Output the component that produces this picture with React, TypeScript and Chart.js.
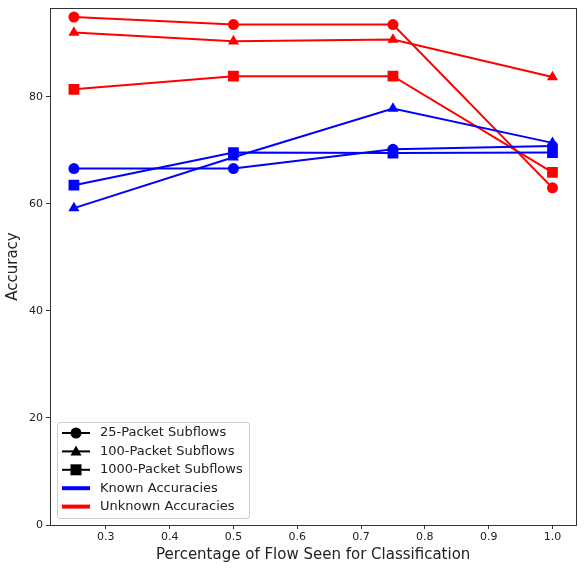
import { useEffect, useRef } from "react";
import { Chart, registerables } from "chart.js";

Chart.register(...registerables);

const xValues = [0.25, 0.5, 0.75, 1.0];
const known25 = [66.6, 66.6, 70.2, 70.8];
const known100 = [59.2, 68.7, 77.8, 71.4];
const known1000 = [63.5, 69.6, 69.5, 69.6];
const unknown25 = [94.9, 93.5, 93.5, 63.0];
const unknown100 = [92.0, 90.4, 90.7, 83.7];
const unknown1000 = [81.4, 83.85, 83.85, 65.9];

const xTicks = [0.3, 0.4, 0.5, 0.6, 0.7, 0.8, 0.9, 1.0];
const yTicks = [0, 20, 40, 60, 80];

const legendItems = [
  { label: "25-Packet Subflows", color: "#000000", marker: "circle" },
  { label: "100-Packet Subflows", color: "#000000", marker: "triangle" },
  { label: "1000-Packet Subflows", color: "#000000", marker: "rect" },
  { label: "Known Accuracies", color: "#0000ff", marker: null },
  { label: "Unknown Accuracies", color: "#ff0000", marker: null },
];

const BLUE = "#0000ff";
const RED = "#ff0000";
const FONT = "'DejaVu Sans', sans-serif";

const markerRadius: Record<string, number> = { circle: 5.5, triangle: 6.4, rect: 7.6 };

function series(values: number[], color: string, marker: string) {
  return {
    data: values.map((y, i) => ({ x: xValues[i], y })),
    borderColor: color,
    backgroundColor: color,
    borderWidth: 2,
    pointStyle: marker,
    pointRadius: markerRadius[marker],
    pointBorderWidth: 0,
    pointBackgroundColor: color,
    showLine: true,
    tension: 0,
  };
}

function drawMarker(ctx: CanvasRenderingContext2D, marker: string, x: number, y: number) {
  ctx.beginPath();
  if (marker === "circle") {
    ctx.arc(x, y, 5.5, 0, Math.PI * 2);
  } else if (marker === "triangle") {
    ctx.moveTo(x, y - 6);
    ctx.lineTo(x + 5.5, y + 4);
    ctx.lineTo(x - 5.5, y + 4);
    ctx.closePath();
  } else {
    ctx.rect(x - 5.5, y - 5.5, 11, 11);
  }
  ctx.fill();
}

// matplotlib-like box around the axes plus the in-axes legend
const framePlugin = {
  id: "frame",
  afterDraw(chart: any) {
    const { ctx, chartArea } = chart;
    ctx.save();
    ctx.strokeStyle = "#333";
    ctx.lineWidth = 1;
    ctx.strokeRect(
      Math.round(chartArea.left) + 0.5,
      Math.round(chartArea.top) + 0.5,
      Math.round(chartArea.right - chartArea.left),
      Math.round(chartArea.bottom - chartArea.top)
    );

    const bx = 57.5;
    const by = 422.5;
    const bw = 192;
    const bh = 96;
    const r = 3;
    ctx.beginPath();
    ctx.moveTo(bx + r, by);
    ctx.lineTo(bx + bw - r, by);
    ctx.arcTo(bx + bw, by, bx + bw, by + r, r);
    ctx.lineTo(bx + bw, by + bh - r);
    ctx.arcTo(bx + bw, by + bh, bx + bw - r, by + bh, r);
    ctx.lineTo(bx + r, by + bh);
    ctx.arcTo(bx, by + bh, bx, by + bh - r, r);
    ctx.lineTo(bx, by + r);
    ctx.arcTo(bx, by, bx + r, by, r);
    ctx.closePath();
    ctx.fillStyle = "rgba(255,255,255,0.8)";
    ctx.fill();
    ctx.strokeStyle = "#cccccc";
    ctx.stroke();

    ctx.font = `13px ${FONT}`;
    ctx.textBaseline = "middle";
    legendItems.forEach((item, i) => {
      const cy = by + 10.5 + i * 18.4;
      ctx.strokeStyle = item.color;
      ctx.fillStyle = item.color;
      ctx.lineWidth = item.marker ? 2 : 4;
      ctx.beginPath();
      ctx.moveTo(62, cy);
      ctx.lineTo(90, cy);
      ctx.stroke();
      if (item.marker) drawMarker(ctx, item.marker, 76, cy);
      ctx.fillStyle = "#222";
      ctx.fillText(item.label, 100, cy);
    });
    ctx.restore();
  },
};

export default function App() {
  const canvasRef = useRef<HTMLCanvasElement | null>(null);

  useEffect(() => {
    if (!canvasRef.current) return;

    const chart = new Chart(canvasRef.current, {
      type: "scatter",
      data: {
        datasets: [
          series(known25, BLUE, "circle"),
          series(known100, BLUE, "triangle"),
          series(known1000, BLUE, "rect"),
          series(unknown25, RED, "circle"),
          series(unknown100, RED, "triangle"),
          series(unknown1000, RED, "rect"),
        ] as any,
      },
      options: {
        responsive: false,
        animation: false,
        layout: { padding: { top: 8, right: 3, left: 0, bottom: 0 } },
        plugins: {
          legend: { display: false },
          tooltip: { enabled: false },
        },
        scales: {
          x: {
            type: "linear",
            min: 0.2125,
            max: 1.0375,
            afterBuildTicks: (scale: any) => {
              scale.ticks = xTicks.map((v) => ({ value: v }));
            },
            afterFit: (scale: any) => {
              scale.height = 43;
              scale.paddingLeft = 0;
              scale.paddingRight = 0;
            },
            grid: {
              drawOnChartArea: false,
              drawTicks: true,
              tickLength: 4,
              tickColor: "#333",
            },
            border: { display: true, color: "#333" },
            ticks: {
              color: "#222",
              font: { family: FONT, size: 11 },
              padding: 2,
              maxRotation: 0,
              autoSkip: false,
              callback: (v: any) => Number(v).toFixed(1),
            },
            title: {
              display: true,
              text: "Percentage of Flow Seen for Classification",
              color: "#222",
              font: { family: FONT, size: 15 },
              padding: { top: 0, bottom: 4 },
            },
          },
          y: {
            type: "linear",
            min: 0,
            max: 96.6,
            afterBuildTicks: (scale: any) => {
              scale.ticks = yTicks.map((v) => ({ value: v }));
            },
            afterFit: (scale: any) => {
              scale.width = 50;
              scale.paddingTop = 0;
              scale.paddingBottom = 0;
            },
            grid: {
              drawOnChartArea: false,
              drawTicks: true,
              tickLength: 4,
              tickColor: "#333",
            },
            border: { display: true, color: "#333" },
            ticks: {
              color: "#222",
              font: { family: FONT, size: 11 },
              padding: 3,
              autoSkip: false,
            },
            title: {
              display: true,
              text: "Accuracy",
              color: "#222",
              font: { family: FONT, size: 15 },
              padding: { top: 4, bottom: 0 },
            },
          },
        },
      },
      plugins: [framePlugin],
    });

    return () => chart.destroy();
  }, []);

  return (
    <div style={{ position: "fixed", left: 0, top: 0, width: 584, height: 568, background: "#fff" }}>
      <canvas ref={canvasRef} width={584} height={568} />
    </div>
  );
}
